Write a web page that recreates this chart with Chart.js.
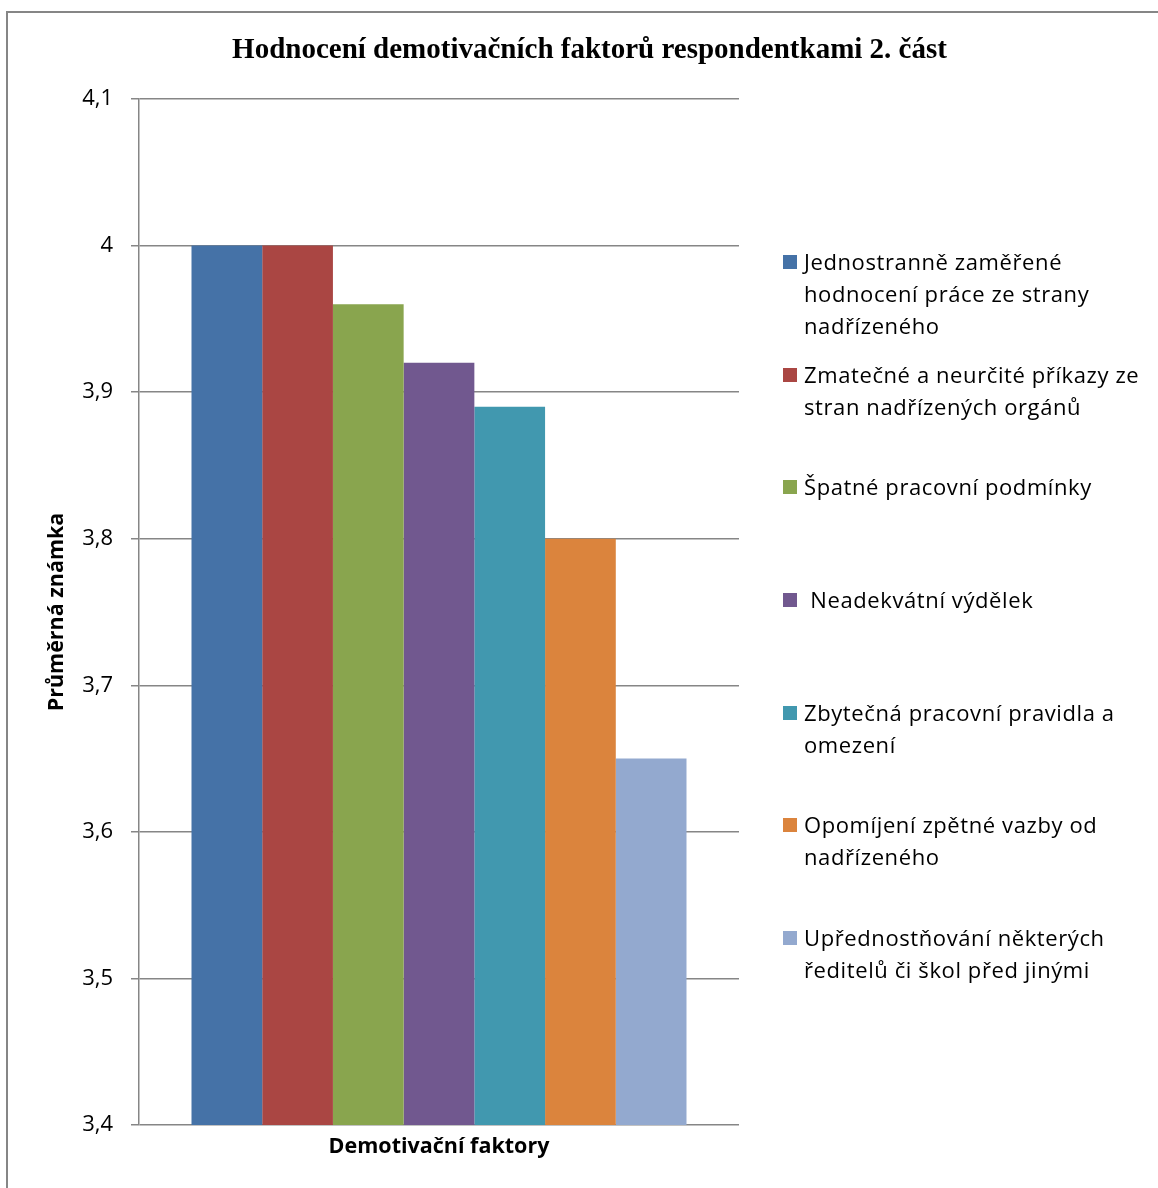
<!DOCTYPE html>
<html>
<head>
<meta charset="utf-8">
<script src="https://cdn.jsdelivr.net/npm/chart.js@4/dist/chart.umd.min.js"></script>
<style>
  html, body { margin: 0; padding: 0; background: #fff; }
  #wrap { position: relative; width: 1158px; height: 1188px; overflow: hidden; }
  #c { position: absolute; left: 0; top: 0; }
  #legend { position: absolute; left: 0; top: 0; font-family: "Open Sans", Lato, sans-serif; font-size: 22px; letter-spacing: 0.6px; color: #000; }
  .item { position: absolute; left: 783px; white-space: nowrap; line-height: 32px; }
  .sw { position: absolute; left: 0; top: 9px; width: 14px; height: 14px; }
  .txt { position: absolute; left: 21px; top: -1px; white-space: pre; }
</style>
</head>
<body>
<div id="wrap">
  <canvas id="c" width="1158" height="1188"></canvas>
  <div id="legend"></div>
</div>
<script>
// ---- data ----
const categories = ["Demotivační faktory"];
const seriesNames = [
  "Jednostranně zaměřené\nhodnocení práce ze strany\nnadřízeného",
  "Zmatečné a neurčité příkazy ze\nstran nadřízených orgánů",
  "Špatné pracovní podmínky",
  " Neadekvátní výdělek",
  "Zbytečná pracovní pravidla a\nomezení",
  "Opomíjení zpětné vazby od\nnadřízeného",
  "Upřednostňování některých\nředitelů či škol před jinými"
];
const seriesValues = [4.00, 4.00, 3.96, 3.92, 3.89, 3.80, 3.65];
const seriesColors = ["#4572A7", "#AA4643", "#89A54E", "#71588F", "#4198AF", "#DB843D", "#93A9CF"];
const yMin = 3.4, yMax = 4.1, yStep = 0.1;
const chartTitle = "Hodnocení demotivačních faktorů respondentkami 2. část";
const yTitle = "Průměrná známka";

const datasets = seriesNames.map((name, i) => ({
  label: name.replace(/\n/g, ' ').trim(),
  data: [seriesValues[i]],
  backgroundColor: seriesColors[i],
  borderWidth: 0,
  barPercentage: 1.0,
  categoryPercentage: 0.825
}));

const frame = {
  id: 'frame',
  beforeDraw(chart) {
    const ctx = chart.ctx;
    ctx.save();
    ctx.strokeStyle = '#868686';
    ctx.lineWidth = 2;
    ctx.beginPath();
    ctx.moveTo(7, 1200);
    ctx.lineTo(7, 12);
    ctx.lineTo(1200, 12);
    ctx.stroke();
    ctx.restore();
  }
};

const gridColor = '#868686';
const sans = '"Open Sans", Lato, sans-serif';

new Chart(document.getElementById('c'), {
  type: 'bar',
  data: { labels: categories, datasets },
  plugins: [frame],
  options: {
    responsive: false,
    animation: false,
    layout: { padding: { left: 21, right: 0, top: 0, bottom: 0 } },
    plugins: {
      legend: { display: false },
      tooltip: { enabled: false },
      title: {
        display: true,
        text: chartTitle,
        color: '#000',
        font: { family: '"Liberation Serif", "Times New Roman", serif', size: 29, weight: 'bold' },
        padding: { top: 33.6, bottom: 30.6 }
      }
    },
    scales: {
      x: {
        grid: { display: false },
        border: { display: false },
        ticks: { display: false },
        title: {
          display: true,
          text: categories[0],
          color: '#000',
          font: { family: sans, size: 21.5, weight: 'bold' },
          padding: { top: 28, bottom: 28 }
        },
        afterFit(s) { s.height = 63; }
      },
      y: {
        min: yMin, max: yMax,
        ticks: {
          stepSize: yStep,
          color: '#000',
          padding: 18,
          font: { family: sans, size: 22 },
          callback: (v) => String(Number(v.toFixed(1))).replace('.', ',')
        },
        grid: { color: gridColor, lineWidth: 1.5, tickLength: 8, tickColor: gridColor },
        border: { display: true, color: gridColor, width: 1.5 },
        title: {
          display: true,
          text: yTitle,
          color: '#000',
          font: { family: sans, size: 21.5, weight: 'bold' },
          padding: { top: 23, bottom: 23 }
        },
        afterFit(s) { s.width = 118; }
      },
      spacer: {
        type: 'linear',
        position: 'right',
        display: true,
        grid: { display: false },
        border: { display: false },
        ticks: { display: false },
        afterFit(s) { s.width = 419; }
      }
    }
  }
});

// HTML legend built from the series arrays
const legend = document.getElementById('legend');
const firstTop = 246, itemStep = 112.67;
seriesNames.forEach((name, i) => {
  const item = document.createElement('div');
  item.className = 'item';
  item.style.top = (firstTop + i * itemStep) + 'px';
  const sw = document.createElement('span');
  sw.className = 'sw';
  sw.style.background = seriesColors[i];
  const t = document.createElement('span');
  t.className = 'txt';
  t.textContent = name;
  item.appendChild(sw);
  item.appendChild(t);
  legend.appendChild(item);
});
</script>
</body>
</html>
